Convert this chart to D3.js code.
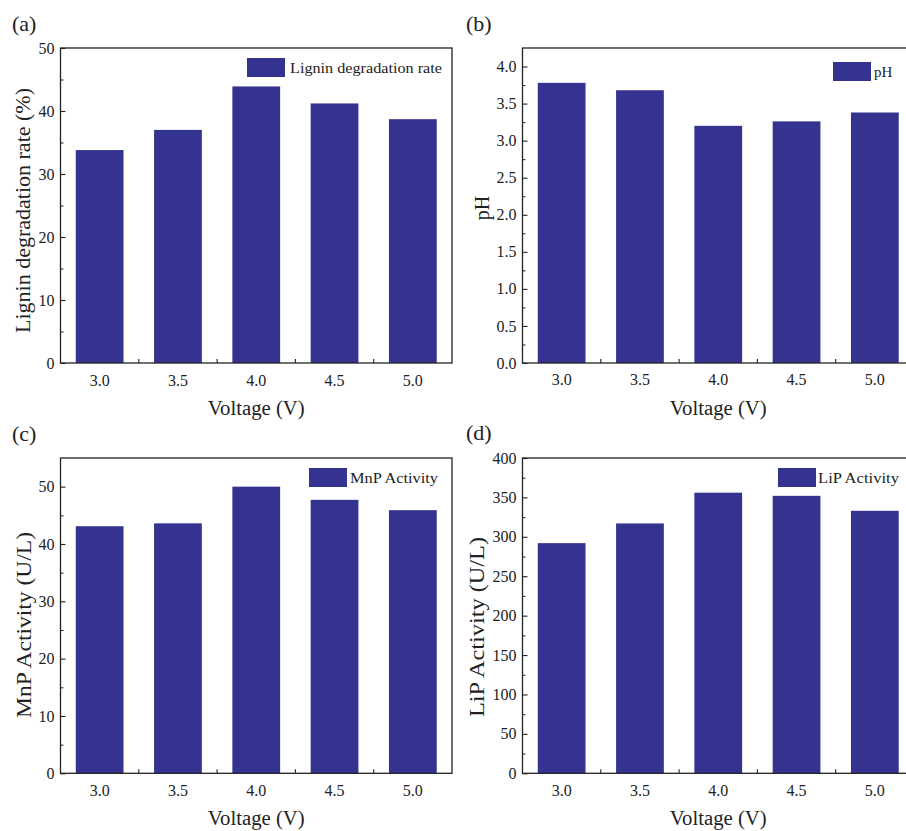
<!DOCTYPE html>
<html>
<head>
<meta charset="utf-8">
<script src="https://cdn.jsdelivr.net/npm/d3@7"></script>
<style>
html,body{margin:0;padding:0;background:#fff;overflow:hidden;}
svg{display:block;}
text{font-family:"Liberation Serif","Times New Roman",serif;fill:#222;}
</style>
</head>
<body>
<svg id="chart" width="906" height="831"></svg>
<script>
// ---- data ----
const voltages = ["3.0", "3.5", "4.0", "4.5", "5.0"];
const ligninRate = [33.8, 37.0, 43.9, 41.2, 38.7];
const phValues = [3.78, 3.68, 3.20, 3.26, 3.38];
const mnpActivity = [43.1, 43.6, 50.0, 47.7, 45.9];
const lipActivity = [292, 317, 356, 352, 333];

const ligninTicks = [0, 10, 20, 30, 40, 50];
const phTicks = [0, 0.5, 1.0, 1.5, 2.0, 2.5, 3.0, 3.5, 4.0];
const mnpTicks = [0, 10, 20, 30, 40, 50];
const lipTicks = [0, 50, 100, 150, 200, 250, 300, 350, 400];

const panels = [
  {label:"(a)", values:ligninRate, ymax:50, ticks:ligninTicks, minorStep:5, fmt:d3.format("d"),
   ytitle:"Lignin degradation rate (%)", legend:"Lignin degradation rate"},
  {label:"(b)", values:phValues, ymax:4.25, ticks:phTicks, minorStep:0.25, fmt:d3.format(".1f"),
   ytitle:"pH", legend:"pH"},
  {label:"(c)", values:mnpActivity, ymax:55, ticks:mnpTicks, minorStep:5, fmt:d3.format("d"),
   ytitle:"MnP Activity (U/L)", legend:"MnP Activity"},
  {label:"(d)", values:lipActivity, ymax:400, ticks:lipTicks, minorStep:25, fmt:d3.format("d"),
   ytitle:"LiP Activity (U/L)", legend:"LiP Activity"}
];

// ---- layout ----
const layout = [
  {x0:60.5, x1:452, y0:48, y1:363, lab:[12,31], ytx:22.5, yty:210.5, ytLen:245,
   xlabY:386, xtitY:415, leg:{x:247,y:58,tx:290,tlen:152}},
  {x0:522.5, x1:914, y0:48, y1:363, lab:[466,31], ytx:482, yty:208, ytLen:null,
   xlabY:385, xtitY:415, leg:{x:833,y:62,tx:874,tlen:null}},
  {x0:60.5, x1:452, y0:458, y1:773.3, lab:[12,441], ytx:24, yty:625, ytLen:186,
   xlabY:796, xtitY:825, leg:{x:309,y:468,tx:350,tlen:88}},
  {x0:522.5, x1:914, y0:458, y1:773.3, lab:[466,440], ytx:476.5, yty:627, ytLen:180,
   xlabY:796, xtitY:825, leg:{x:778,y:468,tx:818,tlen:81}}
];

const barColor = "#343390";
const ink = "#222";
const svg = d3.select("#chart");

panels.forEach((p, i) => {
  const L = layout[i];
  const g = svg.append("g");
  const x = d3.scaleBand().domain(voltages).range([L.x0, L.x1]).paddingInner(0.39).paddingOuter(0.195);
  const y = d3.scaleLinear().domain([0, p.ymax]).range([L.y1, L.y0]);

  // bars
  g.selectAll("rect.bar").data(p.values).join("rect")
    .attr("class","bar")
    .attr("x", (d,j) => x(voltages[j]))
    .attr("width", x.bandwidth())
    .attr("y", d => y(d))
    .attr("height", d => y(0) - y(d))
    .attr("fill", barColor);

  // frame
  g.append("rect").attr("x", L.x0).attr("y", L.y0)
    .attr("width", L.x1 - L.x0).attr("height", L.y1 - L.y0)
    .attr("fill","none").attr("stroke", ink).attr("stroke-width", 1.3);

  // y axis major ticks (inward)
  const yAxis = d3.axisRight(y).tickValues(p.ticks).tickSize(5).tickFormat("");
  const ya = g.append("g").attr("transform", `translate(${L.x0},0)`).call(yAxis);
  ya.select(".domain").remove();
  ya.selectAll("line").attr("stroke", ink).attr("stroke-width", 1.1);
  // minor ticks
  const minor = d3.range(0, p.ymax + 1e-9, p.minorStep).filter(v => !p.ticks.some(t => Math.abs(t - v) < 1e-9) && v < p.ymax - 1e-9);
  const ym = g.append("g").attr("transform", `translate(${L.x0},0)`).call(d3.axisRight(y).tickValues(minor).tickSize(3).tickFormat(""));
  ym.select(".domain").remove();
  ym.selectAll("line").attr("stroke", ink).attr("stroke-width", 1);

  // y tick labels
  g.selectAll("text.ytl").data(p.ticks).join("text")
    .attr("class","ytl")
    .attr("x", L.x0 - 6).attr("y", d => y(d)).attr("dy","0.35em")
    .attr("text-anchor","end").attr("font-size", 16)
    .text(d => p.fmt(d));

  // x ticks at band boundaries (inward)
  const bounds = voltages.slice(1).map(v => x(v) - x.step() * x.paddingInner() / 2);
  g.selectAll("line.xt").data(bounds).join("line")
    .attr("class","xt")
    .attr("x1", d => d).attr("x2", d => d)
    .attr("y1", L.y1).attr("y2", L.y1 - 4)
    .attr("stroke", ink).attr("stroke-width", 1.1);

  // x tick labels
  g.selectAll("text.xtl").data(voltages).join("text")
    .attr("class","xtl")
    .attr("x", d => x(d) + x.bandwidth()/2).attr("y", L.xlabY)
    .attr("text-anchor","middle").attr("font-size", 16)
    .text(d => d);

  // x title
  const cx = (L.x0 + Math.min(L.x1, 906) + (i % 2 ? (L.x1 - 906) : 0)) / 2;
  g.append("text")
    .attr("x", (L.x0 + L.x1) / 2).attr("y", L.xtitY)
    .attr("text-anchor","middle").attr("font-size", 20)
    .attr("textLength", 97).attr("lengthAdjust","spacingAndGlyphs")
    .text("Voltage (V)");

  // y title
  const yt = g.append("text")
    .attr("transform", `translate(${L.ytx},${L.yty}) rotate(-90)`)
    .attr("dy","0.35em")
    .attr("text-anchor","middle").attr("font-size", 20)
    .text(p.ytitle);
  if (L.ytLen) yt.attr("textLength", L.ytLen).attr("lengthAdjust","spacingAndGlyphs");

  // panel label
  g.append("text").attr("x", L.lab[0]).attr("y", L.lab[1])
    .attr("font-size", 22).text(p.label);

  // legend
  g.append("rect").attr("x", L.leg.x).attr("y", L.leg.y)
    .attr("width", 38).attr("height", 19).attr("fill", barColor);
  const lt = g.append("text").attr("x", L.leg.tx).attr("y", L.leg.y + 9.5).attr("dy","0.35em")
    .attr("font-size", 15).text(p.legend);
  if (L.leg.tlen) lt.attr("textLength", L.leg.tlen).attr("lengthAdjust","spacingAndGlyphs");
});
</script>
</body>
</html>
